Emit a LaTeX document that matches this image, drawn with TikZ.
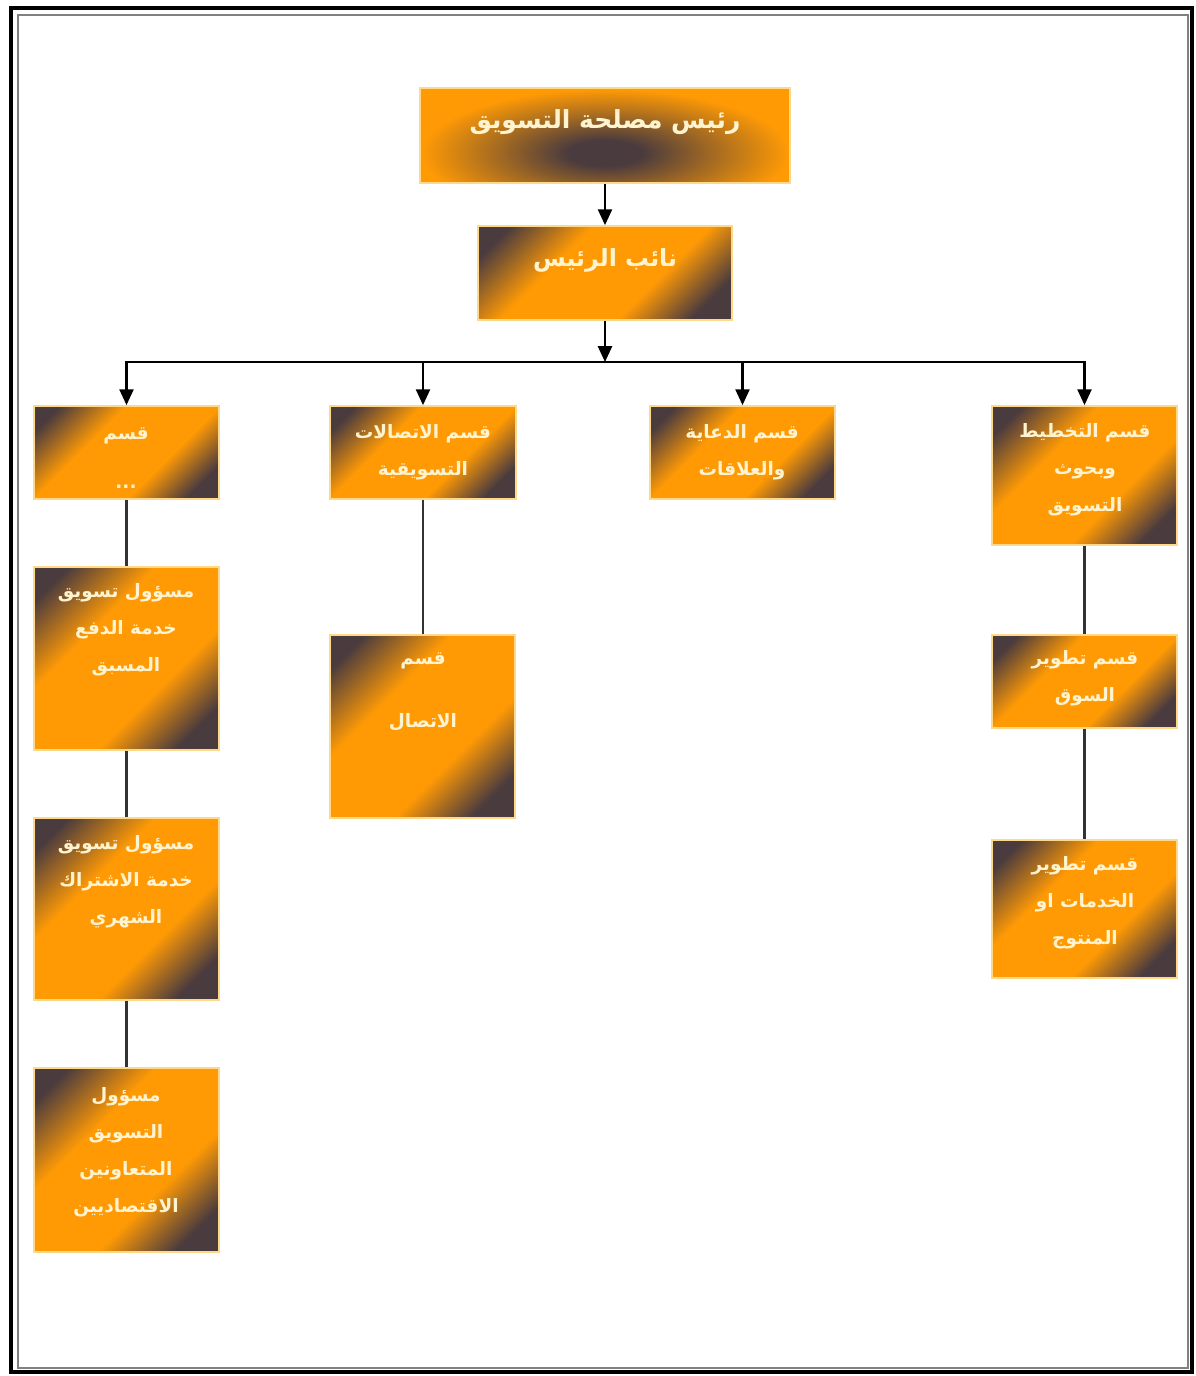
\documentclass[tikz,border=0pt]{standalone}
\usepackage{fontspec}
\usepackage{xcolor}
\usetikzlibrary{arrows.meta}
\newfontfamily\arabicfont[Script=Arabic]{DejaVu Sans}
\TeXXeTstate=1
\newcommand{\ar}[1]{\beginR #1\endR}
\definecolor{boxorange}{HTML}{FF9A05}
\definecolor{boxdark}{HTML}{4A3B3E}
\definecolor{boxedge}{HTML}{FFD98A}
\definecolor{boxtext}{HTML}{FFF4CF}
\pgfdeclarehorizontalshading{cornerfade}{100bp}{color(0bp)=(boxdark); color(21bp)=(boxdark); color(38bp)=(boxorange); color(62bp)=(boxorange); color(77bp)=(boxdark); color(100bp)=(boxdark)}
\pgfdeclareradialshading{blob}{\pgfpoint{0bp}{0bp}}{color(0bp)=(boxdark); color(4bp)=(boxdark); color(11bp)=(boxdark!55!boxorange); color(20bp)=(boxorange); color(50bp)=(boxorange)}
\tikzset{
  box/.style={draw=boxedge, line width=1pt, shading=cornerfade, shading angle=-45, inner sep=0pt},
  headbox/.style={draw=boxedge, line width=1pt, fill=boxorange, inner sep=0pt,
    path picture={\shade[shading=blob]
      ([yshift=-10pt]path picture bounding box.center) ellipse (4.6cm and 1.6cm);}},
  lbl/.style={text=boxtext, align=center, font=\arabicfont\bfseries\fontsize{10.5}{21}\selectfont},
  arr/.style={-{Triangle[length=9pt,width=8pt]}, line width=1.2pt},
  link/.style={line width=1.2pt, black!80}
}
\begin{document}
\begin{tikzpicture}[x=0.02cm, y=-0.02cm]
  \useasboundingbox (0,0) rectangle (1196,1376);
  \draw[line width=2.4pt] (11,8) rectangle (1192,1372);
  \draw[line width=0.6pt, black!50] (18,15) rectangle (1188,1368);

  % head and deputy
  \node[headbox, minimum width=7.4cm, minimum height=1.9cm] (chief) at (605,135.5) {};
  \node[box, minimum width=5.08cm, minimum height=1.88cm] (deputy) at (605,273) {};
  \coordinate (hub) at (605,362);

  % departments
  \node[box, minimum width=3.7cm, minimum height=1.86cm] (secA) at (126.5,452.5) {};
  \node[box, minimum width=3.72cm, minimum height=1.86cm] (secB) at (423,452.5) {};
  \node[box, minimum width=3.7cm, minimum height=1.86cm] (secC) at (742.5,452.5) {};
  \node[box, minimum width=3.7cm, minimum height=2.78cm] (secD) at (1084.5,475.5) {};

  % left column
  \node[box, minimum width=3.7cm, minimum height=3.66cm] (lone) at (126.5,658.5) {};
  \node[box, minimum width=3.7cm, minimum height=3.64cm] (ltwo) at (126.5,909) {};
  \node[box, minimum width=3.7cm, minimum height=3.68cm] (lthree) at (126.5,1160) {};

  \node[box, minimum width=3.7cm, minimum height=3.66cm] (comm) at (422.5,726.5) {};

  % right column
  \node[box, minimum width=3.7cm, minimum height=1.86cm] (market) at (1084.5,681.5) {};
  \node[box, minimum width=3.7cm, minimum height=2.76cm] (product) at (1084.5,909) {};

  % texts
  \node[lbl, font=\arabicfont\bfseries\fontsize{14.2}{22}\selectfont] (chief-t) at (605,122) {\ar{رئيس مصلحة التسويق}};
  \node[lbl, font=\arabicfont\bfseries\fontsize{13.5}{22}\selectfont] (deputy-t) at (605,260) {\ar{نائب الرئيس}};
  \node[lbl] (secA-t) at (126,458) {\ar{قسم}\\[7pt]...};
  \node[lbl] (secB-t) at (423,452) {\ar{قسم الاتصالات}\\\ar{التسويقية}};
  \node[lbl] (secC-t) at (742,452) {\ar{قسم الدعاية}\\\ar{والعلاقات}};
  \node[lbl] (secD-t) at (1085,470) {\ar{قسم التخطيط}\\\ar{وبحوث}\\\ar{التسويق}};
  \node[lbl] (lone-t) at (126,630) {\ar{مسؤول تسويق}\\\ar{خدمة الدفع}\\\ar{المسبق}};
  \node[lbl] (ltwo-t) at (126,882) {\ar{مسؤول تسويق}\\\ar{خدمة الاشتراك}\\\ar{الشهري}};
  \node[lbl] (lthree-t) at (126,1152) {\ar{مسؤول}\\\ar{التسويق}\\\ar{المتعاونين}\\\ar{الاقتصاديين}};
  \node[lbl] (comm-t) at (423,692) {\ar{قسم}\\[15pt]\ar{الاتصال}};
  \node[lbl] (market-t) at (1085,678) {\ar{قسم تطوير}\\\ar{السوق}};
  \node[lbl] (product-t) at (1085,903) {\ar{قسم تطوير}\\\ar{الخدمات او}\\\ar{المنتوج}};

  % connectors
  \draw[arr] (chief) -- (deputy);
  \draw[arr] (deputy) -- (hub);
  \draw[arr] (hub) -| (secA.north);
  \draw[arr] (hub) -| (secB.north);
  \draw[arr] (hub) -| (secC.north);
  \draw[arr] (hub) -| (secD.north);
  \draw[link] (secA) -- (lone);
  \draw[link] (lone) -- (ltwo);
  \draw[link] (ltwo) -- (lthree);
  \draw[link] (secB.south) -- (secB.south |- comm.north);
  \draw[link] (secD) -- (market);
  \draw[link] (market) -- (product);
\end{tikzpicture}
\end{document}
